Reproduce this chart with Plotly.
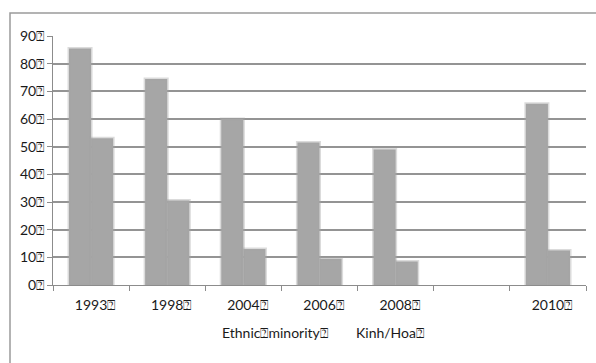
import plotly.graph_objects as go

# Survey years (the blank slot is an empty category before 2010)
years = ["1993", "1998", "2004", "2006", "2008", " ", "2010"]
ethnic_minority = [85.5, 74.5, 60, 51.5, 49, None, 65.5]
kinh_hoa = [53, 30.5, 13, 9.5, 8.5, None, 12.5]
y_ticks = [0, 10, 20, 30, 40, 50, 60, 70, 80, 90]
series_names = ["Ethnic\u2370minority\u2370", "Kinh/Hoa\u2370"]

BOX = "\u2370"
FONT = "Lato, 'Open Sans', sans-serif"
FS = 14
BAR = "#a6a6a6"
GRID = "rgba(0,0,0,0.42)"
AXIS = "#8c8c8c"
TEXT = "#1a1a1a"

x_labels = [y + BOX if y.strip() else y for y in years]

fig = go.Figure()
for name, vals in zip(series_names, [ethnic_minority, kinh_hoa]):
    fig.add_trace(go.Bar(
        x=years, y=vals, name=name, showlegend=False,
        marker=dict(color=BAR, line=dict(color="rgba(166,166,166,0.4)", width=3)),
        hoverinfo="skip",
    ))

fig.update_layout(
    width=596, height=363,
    margin=dict(l=53, r=10, t=36, b=78),
    paper_bgcolor="white", plot_bgcolor="white",
    barmode="group", bargap=0.42, bargroupgap=0,
    font=dict(family=FONT, size=FS, color=TEXT),
    showlegend=False,
)

fig.update_xaxes(
    type="category", categoryorder="array", categoryarray=years,
    tickvals=years, ticktext=x_labels,
    tickson="boundaries", ticks="outside", ticklen=5, tickcolor=AXIS, tickwidth=1,
    showline=True, linecolor=AXIS, linewidth=1, showgrid=False,
    ticklabelshift=4, ticklabelstandoff=7,
    tickfont=dict(family=FONT, size=FS, color=TEXT),
)
fig.update_yaxes(
    range=[0, 90], tickvals=y_ticks, ticktext=[f"{v}{BOX}" for v in y_ticks],
    ticks="outside", ticklen=5, tickcolor=AXIS, tickwidth=1,
    showline=True, linecolor=AXIS, linewidth=1,
    showgrid=True, gridcolor=GRID, gridwidth=1.5,
    zeroline=False, layer="above traces",
    tickfont=dict(family=FONT, size=FS, color=TEXT),
)

# Legend entries set as plain text under the axis
plot_w, plot_h = 533, 249
fig.add_annotation(text=series_names[0], xref="paper", yref="paper",
                   x=(220 - 53) / plot_w, y=(285 - 332) / plot_h,
                   xanchor="left", yanchor="middle", showarrow=False,
                   font=dict(family=FONT, size=FS, color=TEXT))
fig.add_annotation(text=series_names[1], xref="paper", yref="paper",
                   x=(354 - 53) / plot_w, y=(285 - 332) / plot_h,
                   xanchor="left", yanchor="middle", showarrow=False,
                   font=dict(family=FONT, size=FS, color=TEXT))

# Chart-area frame (runs off the right and bottom edges)
fig.add_shape(type="rect", xref="paper", yref="paper",
              x0=(10 - 53) / plot_w, x1=1.2,
              y0=-0.6, y1=(285 - 13) / plot_h,
              line=dict(color="#9a9a9a", width=1.5), fillcolor="rgba(0,0,0,0)",
              layer="below")

fig.write_html("out.html")
